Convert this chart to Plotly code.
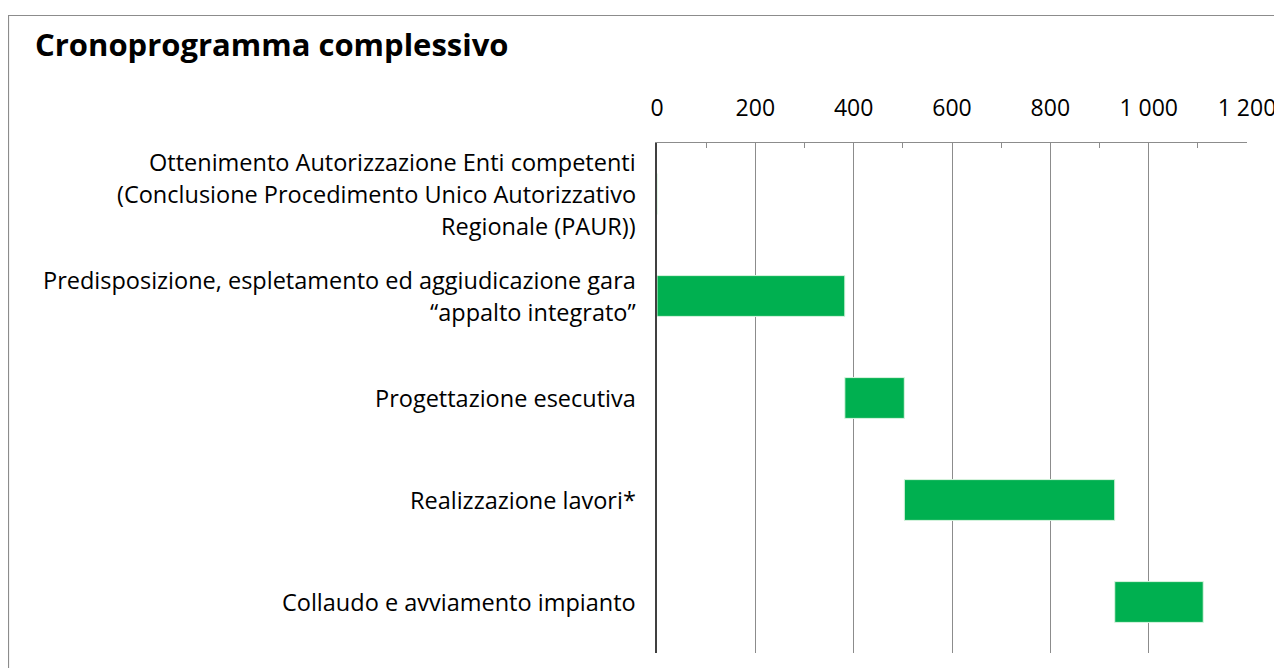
import plotly.graph_objects as go

categories = [
    "Ottenimento Autorizzazione Enti competenti<br>(Conclusione Procedimento Unico Autorizzativo<br>Regionale (PAUR))",
    "Predisposizione, espletamento ed aggiudicazione gara<br>“appalto integrato”",
    "Progettazione esecutiva",
    "Realizzazione lavori*",
    "Collaudo e avviamento impianto",
]
starts = [0, 0, 382, 503, 931]
durations = [0, 382, 121, 428, 180]
tick_values = [0, 200, 400, 600, 800, 1000, 1200]
title_text = "Cronoprogramma complessivo"

FONT = "Open Sans"
W, H = 1282, 668
ML, MR, MT, MB = 649, 43, 135, 23
PW, PH = W - ML - MR, H - MT - MB

fig = go.Figure()
fig.add_trace(go.Bar(
    y=categories, x=durations, base=starts, orientation="h",
    marker=dict(color="#00B050", line=dict(color="rgba(220,245,225,1)", width=1)),
    showlegend=False, hoverinfo="skip",
))

# category labels, one annotation per line for Excel-like line spacing
line_h = 32
for cat in categories:
    lines = cat.split("<br>")
    n = len(lines)
    for i, ln in enumerate(lines):
        off = (i - (n - 1) / 2) * line_h
        fig.add_annotation(
            x=0, xref="paper", y=cat, yref="y", text=ln, showarrow=False,
            xanchor="right", yanchor="middle", xshift=-19, yshift=-off,
            align="right", font=dict(family=FONT, size=23.5, color="#000000"),
        )

# outer chart border
fig.add_shape(type="rect", xref="paper", yref="paper",
              x0=(0.5 - ML) / PW, x1=(1300 - ML) / PW,
              y0=(H - MB - 700) / PH, y1=(H - MB - 7.5) / PH,
              line=dict(color="#8c8c8c", width=1.2), fillcolor="rgba(0,0,0,0)", layer="below")

fig.update_layout(
    width=W, height=H,
    margin=dict(l=ML, r=MR, t=MT, b=MB, autoexpand=False),
    paper_bgcolor="white", plot_bgcolor="white",
    separators=", ",
    bargap=0.6,
    title=dict(text="<b>" + title_text + "</b>", x=27 / W, xref="container", xanchor="left",
               y=1 - 37 / H, yref="container", yanchor="middle",
               font=dict(family=FONT, size=31, color="#000000")),
    xaxis=dict(
        side="top", range=[0, 1200], tickvals=tick_values, tickformat=",d",
        showgrid=True, gridcolor="#8c8c8c", gridwidth=1,
        showline=True, linecolor="#8c8c8c", linewidth=1,
        ticks="inside", ticklen=5, tickcolor="#8c8c8c",
        minor=dict(dtick=100, ticks="inside", ticklen=5, tickcolor="#8c8c8c", showgrid=False),
        tickfont=dict(family=FONT, size=23, color="#000000"),
        ticklabelstandoff=17, zeroline=False, fixedrange=True,
    ),
    yaxis=dict(
        autorange="reversed", showticklabels=False, showgrid=False,
        showline=True, linecolor="#404040", linewidth=1.5, ticks="", zeroline=False,
    ),
)

fig.write_html("out.html")
